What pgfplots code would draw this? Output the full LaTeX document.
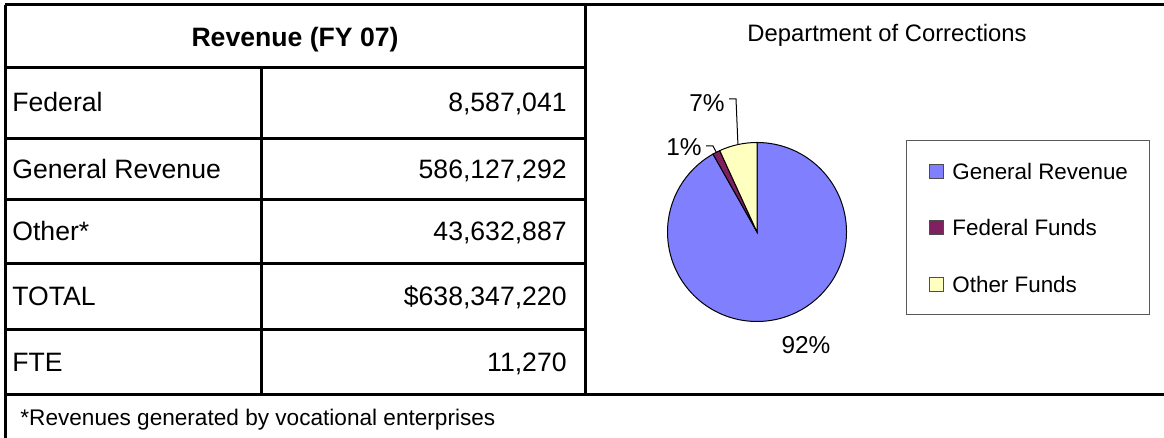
\documentclass[border=0pt]{standalone}
\usepackage{pgfplots}
\pgfplotsset{compat=1.18}
\usepackage{fontspec}
\setmainfont{Liberation Sans}

\definecolor{grblue}{RGB}{128,128,255}
\definecolor{fedplum}{RGB}{128,32,96}
\definecolor{othyel}{RGB}{255,255,192}

% revenue by source, millions of dollars
\def\vGR{586.127292}
\def\vFed{8.587041}
\def\vOth{43.632887}
\pgfmathsetmacro{\tot}{\vGR+\vFed+\vOth}
% Excel starts at 12 o'clock and goes clockwise: GR, Federal, Other
\pgfmathsetmacro{\aOthEnd}{90+360*\vOth/\tot}
\pgfmathsetmacro{\aFedEnd}{\aOthEnd+360*\vFed/\tot}
\pgfmathsetmacro{\mOth}{(90+\aOthEnd)/2}
\pgfmathsetmacro{\mFed}{(\aOthEnd+\aFedEnd)/2}

\begin{document}
\begin{tikzpicture}[x=0.5bp,y=0.5bp]
\useasboundingbox (0,0) rectangle (1164,438);

% ---- table grid
\begin{scope}[line width=1.5bp]
\draw (5,433) -- (1164,433);
\draw (5,43) -- (1164,43);
\foreach \yy in {370,299,238,174,108} \draw (5,\yy) -- (585,\yy);
\draw (5,433) -- (5,-10);
\draw (585,433) -- (585,43);
\draw (261,370) -- (261,43);
\end{scope}

\tikzset{cell/.style={inner sep=0pt, font=\fontsize{13.3bp}{16bp}\selectfont}}
\node[cell, anchor=base, font=\fontsize{13.3bp}{16bp}\selectfont\bfseries] at (295,391) {Revenue (FY 07)};
\node[cell, anchor=base west] at (12,326) {Federal};
\node[cell, anchor=base west] at (12,259) {General Revenue};
\node[cell, anchor=base west] at (12,197) {Other*};
\node[cell, anchor=base west] at (12,132) {TOTAL};
\node[cell, anchor=base west] at (12,66)  {FTE};
\node[cell, anchor=base east] at (567,326) {8,587,041};
\node[cell, anchor=base east] at (567,259) {586,127,292};
\node[cell, anchor=base east] at (567,197) {43,632,887};
\node[cell, anchor=base east] at (567,132) {\$638,347,220};
\node[cell, anchor=base east] at (567,66)  {11,270};
\node[inner sep=0pt, anchor=base west, font=\fontsize{11.3bp}{14bp}\selectfont] at (20,12)
  {*Revenues generated by vocational enterprises};

% ---- chart
\node[inner sep=0pt, anchor=base, font=\fontsize{11.9bp}{14bp}\selectfont] at (887,396)
  {Department of Corrections};

\begin{axis}[
    at={(757,206)}, anchor=origin,
    x=0.5bp, y=0.5bp,
    xmin=-100, xmax=100, ymin=-100, ymax=100,
    hide axis, clip=false
]
\filldraw[fill=grblue, draw=black, line width=0.5bp]
  (axis cs:0,0) -- (axis cs:0,89.5) arc[start angle=90, end angle=\aFedEnd-360, radius=44.75bp] -- cycle;
\filldraw[fill=fedplum, draw=black, line width=0.5bp]
  (axis cs:0,0) -- ({axis cs:{89.5*cos(\aOthEnd)},{89.5*sin(\aOthEnd)}})
  arc[start angle=\aOthEnd, end angle=\aFedEnd, radius=44.75bp] -- cycle;
\filldraw[fill=othyel, draw=black, line width=0.5bp]
  (axis cs:0,0) -- (axis cs:0,89.5) arc[start angle=90, end angle=\aOthEnd, radius=44.75bp] -- cycle;
% leader lines
\draw[line width=0.5bp] ({axis cs:{89.5*cos(\mOth)},{89.5*sin(\mOth)}}) -- (axis cs:-21,133) -- (axis cs:-28,133);
\draw[line width=0.5bp] ({axis cs:{89.5*cos(\mFed)},{89.5*sin(\mFed)}}) -- (axis cs:-44,86) -- (axis cs:-51,86);
\end{axis}

\tikzset{pct/.style={inner sep=0pt, font=\fontsize{12.2bp}{14bp}\selectfont}}
\node[pct, anchor=base east] at (725,326) {7\%};
\node[pct, anchor=base east] at (702,282) {1\%};
\node[pct, anchor=base] at (806,84) {92\%};

% ---- legend
\draw[black!65, line width=0.5bp] (906,297) rectangle (1149,123);
\foreach \yc/\col in {266/grblue, 210/fedplum, 153/othyel}
  \filldraw[fill=\col, draw=black!70, line width=0.5bp] (929,\yc-7) rectangle (943,\yc+7);
\tikzset{leg/.style={inner sep=0pt, anchor=base west, font=\fontsize{11.2bp}{14bp}\selectfont}}
\node[leg] at (952,258) {General Revenue};
\node[leg] at (952,202) {Federal Funds};
\node[leg] at (952,145) {Other Funds};
\end{tikzpicture}
\end{document}
